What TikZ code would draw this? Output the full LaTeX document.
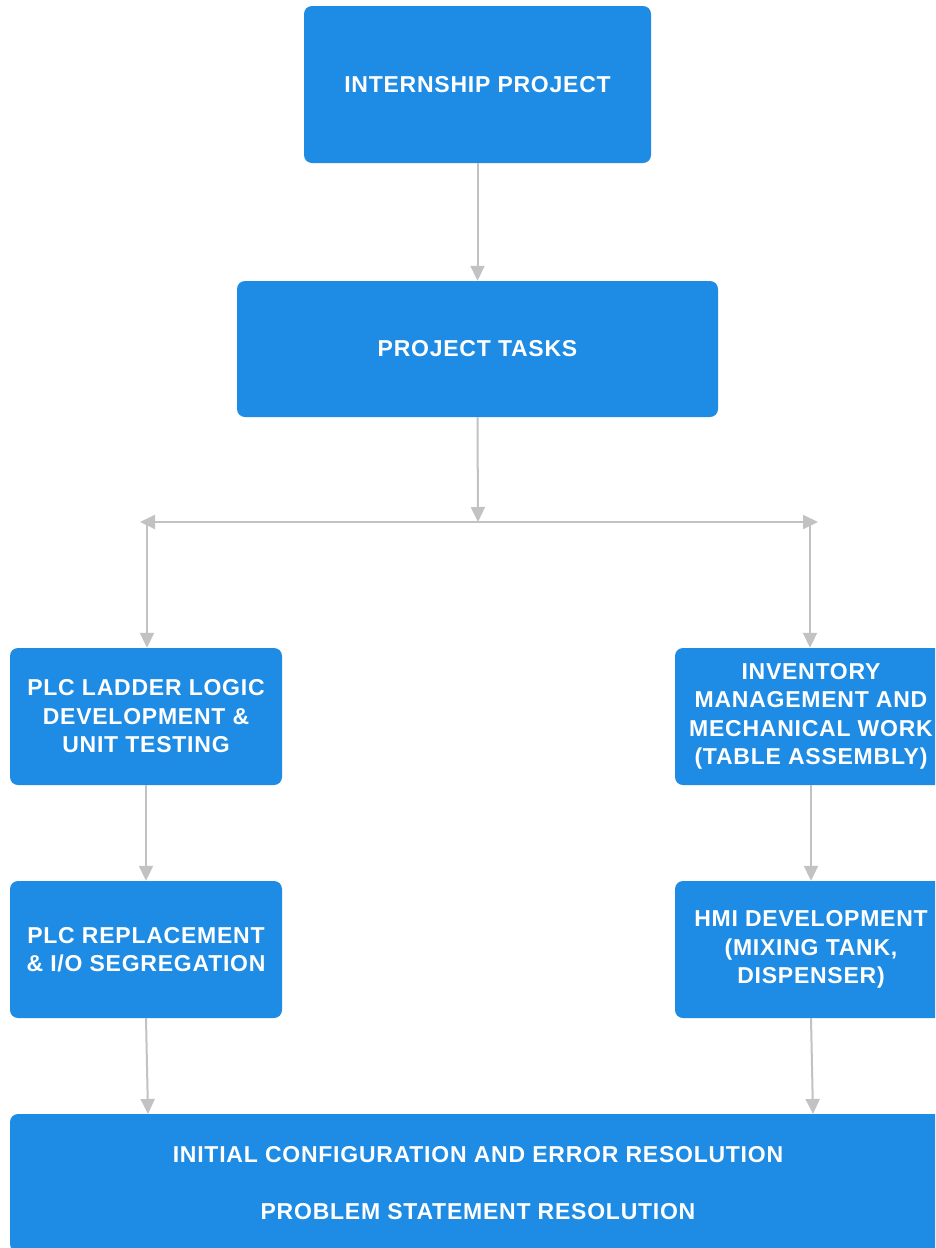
\documentclass[tikz,border=0pt]{standalone}
\usepackage{fontspec}
\setmainfont{Liberation Sans}
\newfontfamily\boxfont[LetterSpace=3.3]{Liberation Sans}
\usetikzlibrary{arrows.meta}
\definecolor{boxblue}{RGB}{30,139,228}
\definecolor{linegrey}{RGB}{194,194,194}
\begin{document}
\begin{tikzpicture}[x=1pt,y=-1pt,
  box/.style={rectangle, rounded corners=8pt, fill=boxblue, draw=none, text=white,
    font=\boxfont\fontsize{23}{28.5}\selectfont\bfseries, align=center, inner sep=0pt},
  conn/.style={draw=linegrey, line width=2pt, -{Triangle[width=14pt,length=15pt]}}]
\useasboundingbox (0,0) rectangle (935,1248);
\clip (0,0) rectangle (935,1248);
\node[box, minimum width=347pt, minimum height=157pt] (ip) at (477.5,84.5) {INTERNSHIP PROJECT};
\node[box, minimum width=481pt, minimum height=136pt] (pt) at (477.5,349) {PROJECT TASKS};
\node[box, minimum width=272pt, minimum height=137pt] (plc) at (146,716.5) {PLC LADDER LOGIC\\DEVELOPMENT \&\\UNIT TESTING};
\node[box, minimum width=272pt, minimum height=137pt] (inv) at (811,716.5) {INVENTORY\\MANAGEMENT AND\\MECHANICAL WORK\\(TABLE ASSEMBLY)};
\node[box, minimum width=272pt, minimum height=137pt] (rep) at (146,949.5) {PLC REPLACEMENT\\\& I/O SEGREGATION};
\node[box, minimum width=272pt, minimum height=137pt] (hmi) at (811,949.5) {HMI DEVELOPMENT\\(MIXING TANK,\\DISPENSER)};
\node[box, minimum width=936pt, minimum height=138pt] (fin) at (478,1183) {INITIAL CONFIGURATION AND ERROR RESOLUTION\\[29pt]PROBLEM STATEMENT RESOLUTION};
\coordinate (J) at (478,522);
\coordinate (L) at (140,522);
\coordinate (R) at (818,522);
\coordinate (Lb) at (147,522);
\coordinate (Rb) at (810,522);
\coordinate (f1) at (148,1114);
\coordinate (f2) at (813,1114);
\draw[conn] (ip.south) -- (pt.north);
\draw[conn] (pt.south) -- (J);
\draw[conn] (J) -- (L);
\draw[conn] (J) -- (R);
\draw[conn] (Lb) -- (Lb |- plc.north);
\draw[conn] (Rb) -- (Rb |- inv.north);
\draw[conn] (plc.south) -- (rep.north);
\draw[conn] (inv.south) -- (hmi.north);
\draw[conn] (rep.south) -- (f1);
\draw[conn] (hmi.south) -- (f2);
\end{tikzpicture}
\end{document}
